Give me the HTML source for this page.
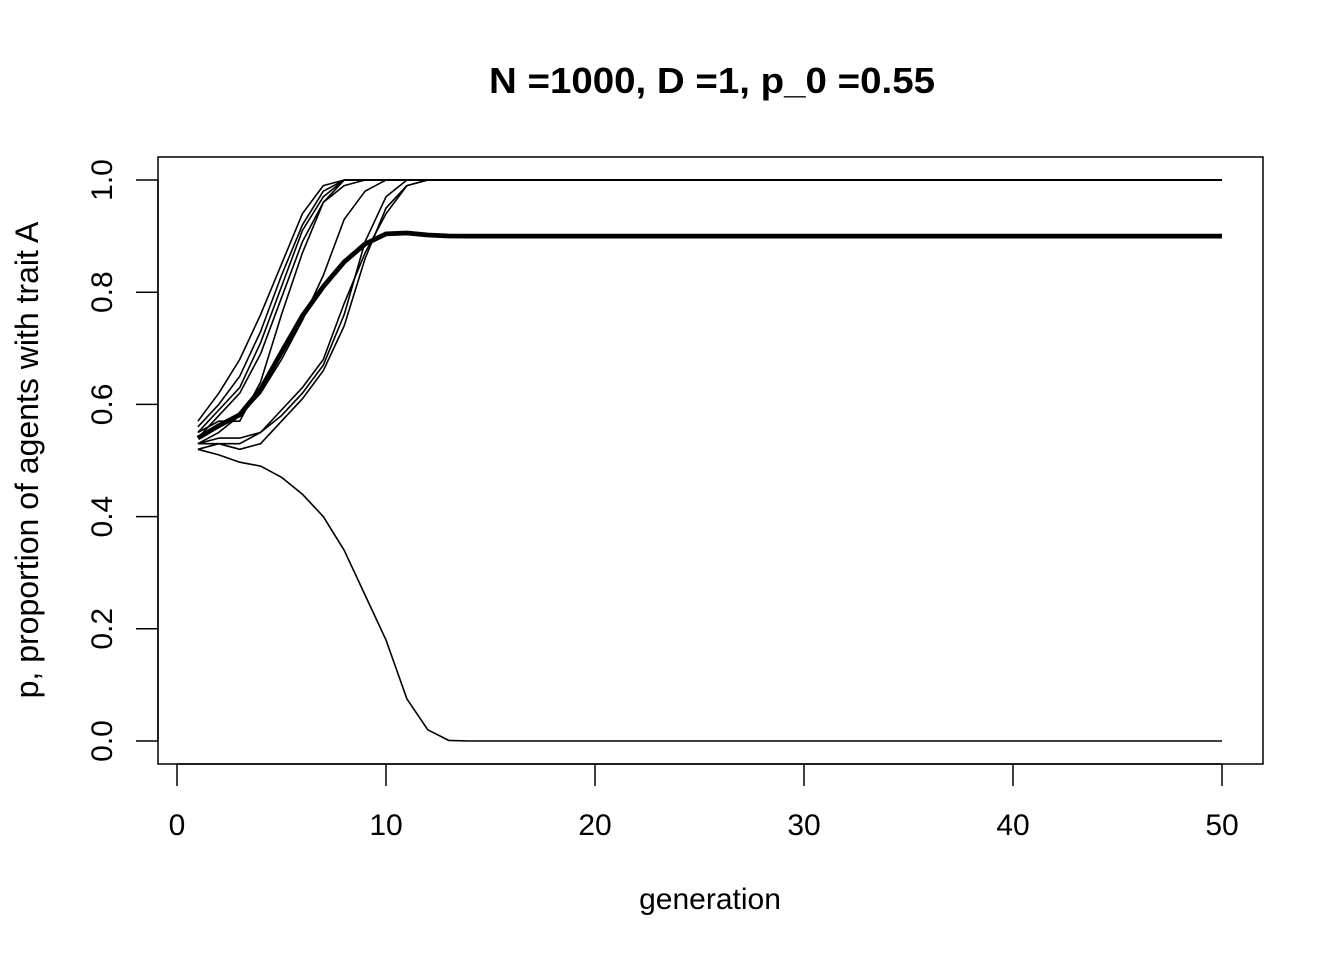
<!DOCTYPE html>
<html><head><meta charset="utf-8"><style>
body{margin:0;background:#fff}
svg text{font-family:"Liberation Sans",Arial,sans-serif;fill:#000}
</style></head><body>
<svg id="chart" width="1344" height="960" xmlns="http://www.w3.org/2000/svg">
<text x="489" y="93" font-size="36" font-weight="bold" textLength="446" lengthAdjust="spacingAndGlyphs">N =1000, D =1, p_0 =0.55</text>
<rect x="158" y="157" width="1105" height="607" fill="none" stroke="#000" stroke-width="1.5"/>
<text x="710" y="909" font-size="30" text-anchor="middle">generation</text>
<text transform="translate(38,460) rotate(-90)" font-size="32" text-anchor="middle">p, proportion of agents with trait A</text>
<g id="axes"></g>
<g id="series"></g>
</svg>
<script>
const xTicks=[0,10,20,30,40,50];
const yTicks=[0.0,0.2,0.4,0.6,0.8,1.0];
const yTickLabels=["0.0","0.2","0.4","0.6","0.8","1.0"];
const run1=[0.57,0.62,0.68,0.76,0.85,0.94,0.99,1.0];
const run2=[0.56,0.60,0.65,0.73,0.83,0.92,0.98,1.0];
const run3=[0.55,0.59,0.63,0.71,0.81,0.91,0.97,1.0];
const run4=[0.54,0.58,0.62,0.69,0.79,0.89,0.96,1.0];
const run5=[0.55,0.57,0.57,0.64,0.76,0.87,0.96,0.99,1.0];
const run6=[0.53,0.55,0.58,0.62,0.68,0.75,0.83,0.93,0.98,1.0];
const run7=[0.53,0.54,0.54,0.55,0.58,0.62,0.67,0.76,0.89,0.97,1.0];
const run8=[0.53,0.53,0.52,0.53,0.57,0.61,0.66,0.74,0.86,0.95,0.99,1.0];
const run9=[0.52,0.53,0.53,0.55,0.59,0.63,0.68,0.78,0.87,0.94,0.99,1.0];
const run10=[0.52,0.51,0.497,0.49,0.47,0.44,0.40,0.34,0.26,0.18,0.075,0.02,0.001,0.0];
const runs=[run1,run2,run3,run4,run5,run6,run7,run8,run9,run10];
const nGen=50;
const X=g=>177+(g)*(1222-177)/50;
const Y=v=>741-v*(741-180);
const NS="http://www.w3.org/2000/svg";
function mk(t,a){const e=document.createElementNS(NS,t);for(const k in a)e.setAttribute(k,a[k]);return e;}
const axes=document.getElementById('axes');
const xa=mk('line',{x1:X(0),x2:X(50),y1:764,y2:764,stroke:'#000','stroke-width':1.5});


axes.appendChild(xa);
xTicks.forEach(t=>{
 const l=mk('line',{x1:X(t),x2:X(t),y1:764,y2:786,stroke:'#000','stroke-width':1.5});
 
 
 axes.appendChild(l);
 const tx=mk('text',{x:X(t),y:835,'font-size':30,'text-anchor':'middle'});tx.textContent=t;
 
 
 axes.appendChild(tx);
});
const ya=mk('line',{x1:158,x2:158,y1:Y(0),y2:Y(1),stroke:'#000','stroke-width':1.5});


axes.appendChild(ya);
yTicks.forEach((t,i)=>{
 const l=mk('line',{x1:136,x2:158,y1:Y(t),y2:Y(t),stroke:'#000','stroke-width':1.5});
 
 
 axes.appendChild(l);
 const tx=mk('text',{transform:`translate(112,${Y(t)}) rotate(-90)`,'font-size':30,'text-anchor':'middle'});tx.textContent=yTickLabels[i];
 
 
 axes.appendChild(tx);
});
const full=r=>{const a=[];for(let g=0;g<nGen;g++)a.push(g<r.length?r[g]:r[r.length-1]);return a;};
const ser=document.getElementById('series');
function path(vals,w,name){
 const d=vals.map((v,i)=>(i?'L':'M')+X(i+1).toFixed(1)+' '+Y(v).toFixed(1)).join(' ');
 const p=mk('path',{d:d,fill:'none',stroke:'#000','stroke-width':w,'stroke-linejoin':'round'});
 
 
 ser.appendChild(p);
}
const fr=runs.map(full);
fr.forEach((r,i)=>path(r,1.6,'run-line-'+(i+1)));
const mean=[];for(let g=0;g<nGen;g++){mean.push(fr.reduce((s,r)=>s+r[g],0)/fr.length);}
path(mean,4.8,'mean-line');
</script>
</body></html>
